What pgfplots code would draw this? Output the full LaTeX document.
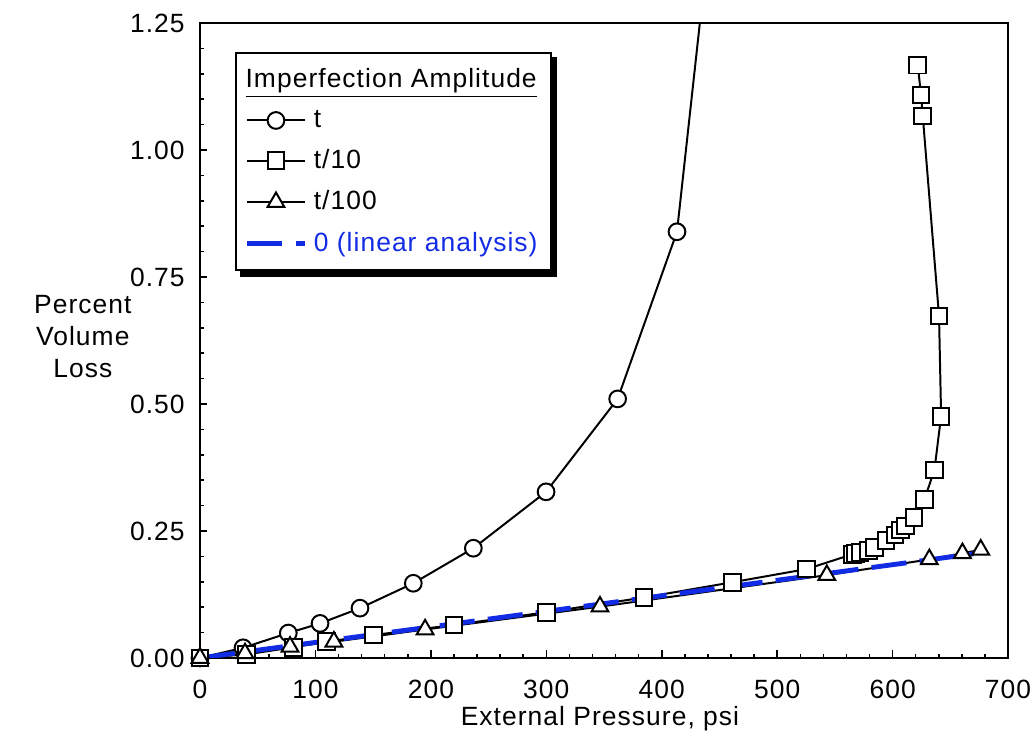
\documentclass[12pt,border=0pt]{standalone}
\usepackage{fontspec}
\setmainfont[LetterSpace=4]{Liberation Sans}
\usepackage{pgfplots}
\pgfplotsset{compat=1.18}
\definecolor{linblue}{rgb}{0.07,0.17,0.9}

\pgfplotstableread{
x y
0 0
37.3 0.020
76.5 0.049
104 0.068
138.6 0.098
184.8 0.147
236.8 0.216
299.8 0.327
361.8 0.510
413.2 0.839
}\tcirc

\pgfplotstableread{
x y
0 0
40.4 0.007
80.9 0.021
109.7 0.032
150.2 0.045
220 0.065
300.3 0.090
384.6 0.119
461.2 0.149
525.6 0.175
565 0.204
568 0.205
571.8 0.207
579 0.211
584.2 0.218
594.3 0.231
602.1 0.242
607 0.252
611.4 0.260
618.6 0.276
627.5 0.312
636.2 0.370
642 0.476
640.2 0.673
626.1 1.067
624.6 1.108
621.8 1.167
}\tten

\pgfplotstableread{
x y
0 0
39 0.009
78 0.022
116 0.032
195 0.056
346.5 0.101
543 0.163
631.8 0.194
660.5 0.206
676.3 0.213
}\thund

\pgfplotstableread{
x y
0 0
670 0.205
}\tlin

\begin{document}
\begin{tikzpicture}
\begin{axis}[
  name=ax,
  scale only axis, width=367.3pt, height=288.6pt,
  xmin=0, xmax=700, ymin=0, ymax=1.25,
  xtick={0,100,200,300,400,500,600,700},
  ytick={0,0.25,0.5,0.75,1.0,1.25},
  minor x tick num=4, minor y tick num=4,
  tick align=inside, tick pos=left,
  major tick length=3.4pt, minor tick length=2pt,
  axis line style={line width=0.9pt},
  every tick/.style={black, line width=0.7pt},
  /pgf/number format/assume math mode=true,
  scaled ticks=false,
  yticklabel style={/pgf/number format/fixed, /pgf/number format/fixed zerofill, /pgf/number format/precision=2, xshift=-2.8pt},
  xticklabel style={yshift=-6pt},
  xlabel={External Pressure, psi},
  xlabel style={at={(axis description cs:0.495,-0.096)}, anchor=center},
  ylabel={Percent\\Volume\\Loss},
  ylabel style={rotate=-90, align=center, at={(axis description cs:-0.145,0.506)}, anchor=center},
  legend cell align=left,
  legend style={name=leg, at={(axis description cs:0.0433,0.954)}, anchor=north west,
    draw=black, line width=0.9pt, fill=white,
    row sep=4.3pt, inner xsep=4pt, inner ysep=5pt, column sep=1pt,
    nodes={inner sep=2pt}},
  lineimg/.style={legend image code/.code={%
    \draw[sharp plot, mark repeat=2, mark phase=2] plot coordinates {(0cm,0cm) (0.46cm,0cm) (0.92cm,0cm)};}},
]
\addlegendimage{empty legend}
\addlegendentry{\hspace*{-31pt}\underline{Imperfection Amplitude}}

% lines
\addplot[black, line width=0.9pt, forget plot] coordinates {
(0,0) (37.3,0.020) (76.5,0.049) (104,0.068) (138.6,0.098) (184.8,0.147) (236.8,0.216)
(299.8,0.327) (361.8,0.510) (413.2,0.839) (441,1.416)};
\addplot[black, line width=0.9pt, forget plot] table {\tten};
\addplot[black, line width=0.9pt, forget plot] table {\thund};
\addplot[linblue, line width=2.2pt, dash pattern=on 16pt off 6pt, forget plot] table {\tlin};

% marks
\addplot[black, line width=0.9pt, only marks, mark=*, mark size=3.8pt, mark options={fill=white, line width=0.9pt}, lineimg] table {\tcirc};
\addlegendentry{t}
\addplot[black, line width=0.9pt, only marks, mark=square*, mark size=3.8pt, mark options={fill=white, line width=0.9pt}, lineimg] table {\tten};
\addlegendentry{t/10}
\addplot[black, line width=0.9pt, only marks, mark=triangle*, mark size=4.4pt, mark options={fill=white, line width=0.9pt}, lineimg] table {\thund};
\addlegendentry{t/100}
\addlegendimage{linblue, line width=2.2pt, dash pattern=on 16pt off 6pt, legend image code/.code={\draw (0cm,0cm) -- (0.92cm,0cm);}}
\addlegendentry{\textcolor{linblue}{0 (linear analysis)}}
\end{axis}
\fill[black] ([shift={(0pt,-2.4pt)}]leg.north east) rectangle ([shift={(2.4pt,-2.4pt)}]leg.south east);
\fill[black] ([shift={(2.4pt,0pt)}]leg.south west) rectangle ([shift={(2.4pt,-2.4pt)}]leg.south east);
\pgfresetboundingbox
\path ([shift={(-90.9pt,-39.1pt)}]ax.south west) rectangle ([shift={(12.7pt,10.45pt)}]ax.north east);
\end{tikzpicture}
\end{document}
